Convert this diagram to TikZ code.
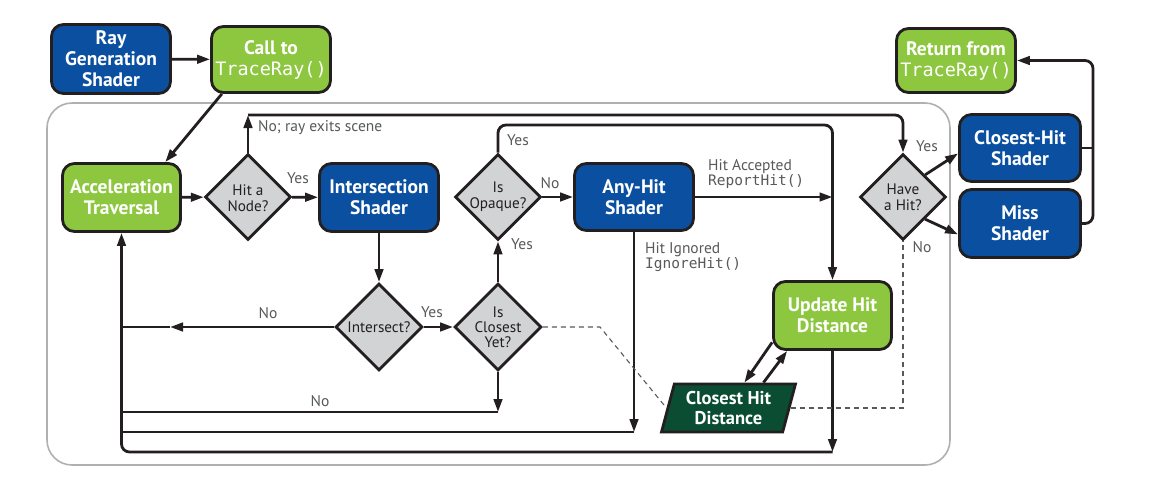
\documentclass[tikz,border=0pt]{standalone}
\usepackage{fontspec}
\setmainfont{PT Sans}
\newfontfamily\monof{DejaVu Sans Mono}
\usetikzlibrary{arrows.meta,shapes.geometric,calc}
\definecolor{nblue}{HTML}{0B50A0}
\definecolor{ngreen}{HTML}{8DC63F}
\definecolor{ndkgreen}{HTML}{0A4D33}
\definecolor{ngray}{HTML}{D1D3D4}
\definecolor{nline}{HTML}{231F20}
\definecolor{nlabel}{HTML}{58595B}
\definecolor{nframe}{HTML}{AEB0B3}
\begin{document}
\begin{tikzpicture}[x=1pt,y=-1pt,
 box/.style={draw=nline, line width=2.8pt, rounded corners=12pt, text=white, font=\fontsize{19.5}{21}\selectfont\bfseries, align=center, inner sep=0pt},
 bluebox/.style={box, fill=nblue},
 greenbox/.style={box, fill=ngreen},
 dia/.style={diamond, draw=nline, line width=2.8pt, fill=ngray, inner sep=0pt, minimum width=86pt, minimum height=86pt},
 dtext/.style={font=\fontsize{15.2}{16}\selectfont, text=nline, align=center},
 lbl/.style={font=\fontsize{15.5}{17}\selectfont, text=nlabel, inner sep=0pt},
 mlbl/.style={font=\fontsize{14.5}{17}\monof, text=nlabel, inner sep=0pt},
 conn/.style={draw=nline, line width=2.8pt},
 arr/.style={conn, -{Triangle[length=13pt,width=8.5pt]}},
 dashedline/.style={draw=nlabel, line width=1.1pt, dash pattern=on 5pt off 4pt},
]
\fill[white] (0,0) rectangle (1157,488);
\useasboundingbox (0,0) rectangle (1157,488);
\draw[nframe, line width=1.6pt, rounded corners=25pt] (47,103) rectangle (950,465);

% nodes
\node[bluebox, minimum width=119pt, minimum height=69pt] (raygen) at (111,59) {Ray\\Generation\\Shader};
\node[greenbox, minimum width=119pt, minimum height=66pt] (call) at (271,59.5) {Call to\\{\fontsize{18.5}{21}\monof\mdseries TraceRay()}};
\node[greenbox, minimum width=119pt, minimum height=64pt] (ret) at (956,60.5) {Return from\\{\fontsize{18.5}{21}\monof\mdseries TraceRay()}};
\node[bluebox, minimum width=121pt, minimum height=67pt] (chs) at (1020,148) {Closest-Hit\\Shader};
\node[bluebox, minimum width=121pt, minimum height=68pt] (miss) at (1020,223.5) {Miss\\Shader};
\node[greenbox, minimum width=118pt, minimum height=68pt] (accel) at (121.5,197.5) {Acceleration\\Traversal};
\node[bluebox, minimum width=119pt, minimum height=68pt] (isect) at (379,197.5) {Intersection\\Shader};
\node[bluebox, minimum width=119pt, minimum height=67pt] (anyhit) at (634,197) {Any-Hit\\Shader};
\node[greenbox, minimum width=118pt, minimum height=68pt] (update) at (832.5,315.5) {Update Hit\\Distance};
\node[dia, label={[dtext, yshift=-1pt]center:Hit a\\Node?}] (hitnode) at (248,197) {};
\node[dia, label={[dtext]center:Is\\Opaque?}] (opaque) at (498,197) {};
\node[dia, label={[dtext]center:Have\\a Hit?}] (havehit) at (903,197) {};
\node[dia, minimum width=87pt, minimum height=87pt, label={[dtext]center:Intersect?}] (intersect) at (379,327) {};
\node[dia, minimum width=87pt, minimum height=87pt, label={[dtext, font=\fontsize{15.2}{15}\selectfont]center:Is\\Closest\\Yet?}] (closest) at (498,327) {};
\node[trapezium, trapezium left angle=69, trapezium right angle=111, trapezium stretches body,
  draw=nline, line width=2.8pt, fill=ndkgreen, text=white, inner sep=0pt,
  minimum width=134pt, minimum height=48pt, align=center,
  font=\fontsize{18.5}{20}\selectfont\bfseries] (chd) at (728.5,408) {Closest Hit\\Distance};

% coordinates
\coordinate (nA) at (248,115);
\coordinate (cTop) at (832.5,125);
\coordinate (jA) at (832.5,197);
\coordinate (cAH) at (634,432);
\coordinate (cL3) at (121.5,432);
\coordinate (cUB) at (832.5,452);
\coordinate (cCB) at (498,412);
\coordinate (cL2) at (121.5,412);
\coordinate (cNo) at (170,327);
\coordinate (cL1) at (121.5,327);
\coordinate (cD1) at (600,327);
\coordinate (cR) at (1093,60.5);

% connectors
\draw[arr] (raygen) -- (call);
\draw[arr] (call.215) -- (accel.39);
\draw[arr] (accel) -- (hitnode);
\draw[arr] (hitnode) -- (isect);
\draw[arr] (hitnode.north) -- (nA);
\draw[arr, rounded corners=8pt] (nA) -| (havehit.north);
\draw[arr] (isect) -- (intersect);
\draw[arr] (intersect.west) -- (cNo);
\draw[conn] (cNo) -- (cL1);
\draw[arr] (intersect) -- (closest);
\draw[arr] (closest) -- (opaque);
\draw[arr] (closest.south) -- (cCB);
\draw[conn] (cCB) -- (cL2);
\draw[arr, rounded corners=8pt] (opaque.north) |- (cTop) -- (update.north);
\draw[arr] (opaque) -- (anyhit);
\draw[arr] (anyhit.east) -- (jA);
\draw[arr] (anyhit.south) -- (cAH);
\draw[conn] (cAH) -- (cL3);
\draw[arr] (update.south) -- (cUB);
\draw[arr, rounded corners=8pt] (cUB) -| (accel.south);
\draw[arr] (update.204) -- (chd.58);
\draw[arr] (chd.36) -- (update.218);
\draw[dashedline] (closest.east) -- (cD1) -- (chd.west);
\draw[dashedline] (chd.east) -| (havehit.south);
\draw[arr] (havehit.north east) -- (chs.185);
\draw[arr] (havehit.south east) -- (miss.190);
\draw[arr, rounded corners=8pt] (miss.east) -| (cR) -- (ret.east);
\draw[conn] (chs.east) -- (chs.east -| cR);

% labels
\node[lbl] (l1) at (298,178) {Yes};
\node[lbl, anchor=west] (l2) at (258,128) {No; ray exits scene};
\node[lbl] (l3) at (518,140) {Yes};
\node[lbl] (l4) at (550,183) {No};
\node[lbl] (l5) at (522,244) {Yes};
\node[lbl, anchor=base west] (l6) at (708,170) {Hit Accepted};
\node[mlbl, anchor=base west] (l7) at (708,185) {ReportHit()};
\node[lbl, anchor=base west] (l8) at (645,253) {Hit Ignored};
\node[mlbl, anchor=base west] (l9) at (645,268) {IgnoreHit()};
\node[lbl] (l10) at (268,313) {No};
\node[lbl] (l11) at (432,312) {Yes};
\node[lbl] (l12) at (320,401) {No};
\node[lbl] (l13) at (927,146) {Yes};
\node[lbl] (l14) at (922,247) {No};
\end{tikzpicture}
\end{document}
